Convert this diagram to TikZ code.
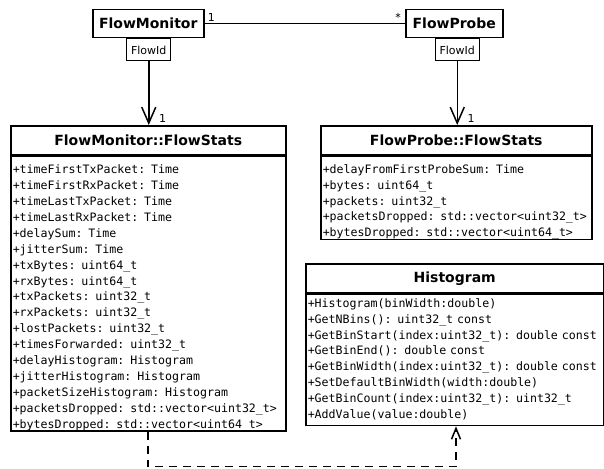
\documentclass[tikz,border=0pt]{standalone}
\usepackage{fontspec}
\setmainfont{DejaVu Sans}
\setmonofont{DejaVu Sans Mono}
\usetikzlibrary{arrows.meta}

\tikzset{
  classtitle/.style={draw, line width=1.5pt, inner sep=0pt, anchor=north west,
    minimum height=29pt, font=\bfseries\fontsize{14}{16}\selectfont},
  classattrs/.style={draw, line width=1.5pt, inner xsep=2pt, inner ysep=0pt,
    anchor=north west, align=left, font=\ttfamily\fontsize{11.6}{15.9}\selectfont},
  smallclass/.style={draw, line width=1.5pt, inner sep=0pt, anchor=north west,
    minimum height=28pt, font=\bfseries\fontsize{14}{16}\selectfont},
  qualifier/.style={draw, line width=1pt, inner sep=0pt, anchor=north,
    minimum width=44pt, minimum height=22pt, font=\fontsize{11}{13}\selectfont},
  mult/.style={font=\fontsize{11}{13}\selectfont, inner sep=1.5pt},
  assoc/.style={line width=1.5pt},
  navig/.style={line width=1.5pt, -{Straight Barb[length=16pt,width=14pt]}},
  depend/.style={line width=1.5pt, dash pattern=on 8pt off 6pt,
    -{Straight Barb[length=11pt,width=9pt]}}
}

\begin{document}
\begin{tikzpicture}[x=1pt,y=-1pt]
\useasboundingbox (0,0) rectangle (604,468);

% top classes with their qualifiers
\node[smallclass, minimum width=111pt] (fmon) at (92,9) {FlowMonitor};
\node[qualifier] (fmid) at ([xshift=0.5pt]fmon.south) {FlowId};
\node[smallclass, minimum width=97pt] (fprobe) at (405,9) {FlowProbe};
\node[qualifier] (fpid) at ([xshift=3pt]fprobe.south) {FlowId};

% FlowMonitor::FlowStats
\node[classtitle, minimum width=275pt] (fmstats) at (10,125) {FlowMonitor::FlowStats};
\node[classattrs, text width=271pt] (fmattrs) at (fmstats.south west) {%
\rule{0pt}{17.5pt}+timeFirstTxPacket: Time\\
+timeFirstRxPacket: Time\\
+timeLastTxPacket: Time\\
+timeLastRxPacket: Time\\
+delaySum: Time\\
+jitterSum: Time\\
+txBytes: uint64\_t\\
+rxBytes: uint64\_t\\
+txPackets: uint32\_t\\
+rxPackets: uint32\_t\\
+lostPackets: uint32\_t\\
+timesForwarded: uint32\_t\\
+delayHistogram: Histogram\\
+jitterHistogram: Histogram\\
+packetSizeHistogram: Histogram\\
+packetsDropped: std::vector<uint32\_t>\\
+bytesDropped: std::vector<uint64\_t>};

% FlowProbe::FlowStats
\node[classtitle, minimum width=271pt] (fpstats) at (320,125) {FlowProbe::FlowStats};
\node[classattrs, text width=267pt] (fpattrs) at (fpstats.south west) {%
\rule{0pt}{17pt}+delayFromFirstProbeSum: Time\\
+bytes: uint64\_t\\
+packets: uint32\_t\\
+packetsDropped: std::vector<uint32\_t>\\
+bytesDropped: std::vector<uint64\_t>};

% Histogram
\node[classtitle, minimum width=298pt, minimum height=29pt] (hist) at (305,263) {Histogram};
\node[classattrs, text width=294pt] (histops) at (hist.south west) {%
\rule{0pt}{13pt}+Histogram(binWidth:double)\\
+GetNBins(): uint32\_t const\\
+GetBinStart(index:uint32\_t): double const\\
+GetBinEnd(): double const\\
+GetBinWidth(index:uint32\_t): double const\\
+SetDefaultBinWidth(width:double)\\
+GetBinCount(index:uint32\_t): uint32\_t\\
+AddValue(value:double)\rule[-7pt]{0pt}{7pt}};

% connectors
\draw[assoc] (fmon.east) -- (fprobe.west)
  node[mult, pos=0, anchor=south west, xshift=1pt] {1}
  node[mult, pos=1, anchor=south east, xshift=-2pt] {*};
\draw[navig] (fmid.south) -- (fmid.south |- fmstats.north)
  node[mult, anchor=south west, xshift=8pt] {1};
\draw[navig] (fpid.south) -- (fpid.south |- fpstats.north)
  node[mult, anchor=south west, xshift=8pt] {1};
\draw[depend] ([xshift=138pt]fmattrs.south west) -- ++(0,35)
  -| ([xshift=151pt]histops.south west);
\end{tikzpicture}
\end{document}
